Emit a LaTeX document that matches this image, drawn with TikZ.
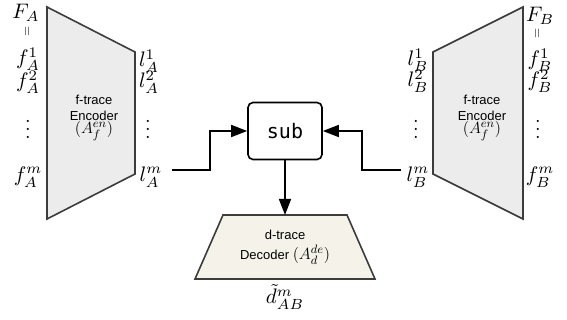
\documentclass[tikz,border=0pt]{standalone}
\usepackage{graphicx}
\usepackage{fontspec}
\setsansfont{Liberation Sans}
\newfontfamily\monofont{DejaVu Sans Mono}
\usetikzlibrary{arrows.meta}
\definecolor{encfill}{HTML}{ECECEC}
\definecolor{decfill}{HTML}{F5F3E9}
\definecolor{edge}{HTML}{3C3C3C}
\newcommand{\mlab}[1]{\scalebox{2.1}{$#1$}}
\newcommand{\mtxt}[1]{\scalebox{1.35}{$#1$}}
\begin{document}
\begin{tikzpicture}[x=1pt,y=-1pt,
  trap/.style={draw=edge,line width=1.6pt,line join=miter},
  lbl/.style={inner sep=0pt,font=\fontsize{10}{12}\selectfont},
  boxtxt/.style={font=\sffamily\fontsize{13}{15}\selectfont,align=center,inner sep=0pt},
  conn/.style={draw=black,line width=1.6pt},
  arr/.style={conn,-{Triangle[length=16pt,width=12pt]}}]
\useasboundingbox (0,0) rectangle (567,320);
% left encoder
\draw[trap,fill=encfill] (47,7) -- (135,52) -- (135,174) -- (47,219) -- cycle;
\node[boxtxt] (encA1) at (94,100) {f-trace};
\node[boxtxt] (encA2) at (94,116) {Encoder};
\node[boxtxt] (encA3) at (94,131) {\mtxt{(A_f^{en})}};
% right encoder
\draw[trap,fill=encfill] (523,7) -- (433,52) -- (433,174) -- (523,219) -- cycle;
\node[boxtxt] (encB1) at (482,100) {f-trace};
\node[boxtxt] (encB2) at (482,116) {Encoder};
\node[boxtxt] (encB3) at (482,131) {\mtxt{(A_f^{en})}};
% decoder
\draw[trap,fill=decfill] (223,215) -- (347,215) -- (375,279) -- (195,279) -- cycle;
\node[boxtxt] (dec1) at (285,235) {d-trace};
\node[boxtxt] (dec2) at (285,255) {Decoder \mtxt{(A_d^{de})}};
% sub box
\node[draw=black,line width=1.6pt,rounded corners=5pt,minimum width=74pt,minimum height=57pt,inner sep=0pt,font=\monofont\fontsize{20}{22}\selectfont] (sub) at (285,131) {sub};
% left labels
\node[lbl] (FA) at (26,13) {\mlab{F_A}};
\node[lbl] (eqA) at (28,31) {\rotatebox{90}{\scalebox{1.3}{$=$}}};
\node[lbl] (fA1) at (28,59) {\mlab{f_A^1}};
\node[lbl] (fA2) at (28,82) {\mlab{f_A^2}};
\node[lbl] (fAd) at (28,123) {\scalebox{2}{$\vdots$}};
\node[lbl] (fAm) at (28,177) {\mlab{f_A^m}};
\node[lbl] (lA1) at (149,61) {\mlab{l_A^1}};
\node[lbl] (lA2) at (149,82) {\mlab{l_A^2}};
\node[lbl] (lAd) at (148,123) {\scalebox{2}{$\vdots$}};
\node[lbl] (lAm) at (151,177) {\mlab{l_A^m}};
% right labels
\node[lbl] (FB) at (540,16) {\mlab{F_B}};
\node[lbl] (eqB) at (538,33) {\rotatebox{90}{\scalebox{1.3}{$=$}}};
\node[lbl] (fB1) at (540,60) {\mlab{f_B^1}};
\node[lbl] (fB2) at (540,81) {\mlab{f_B^2}};
\node[lbl] (fBd) at (538,123) {\scalebox{2}{$\vdots$}};
\node[lbl] (fBm) at (540,177) {\mlab{f_B^m}};
\node[lbl] (lB1) at (418,60) {\mlab{l_B^1}};
\node[lbl] (lB2) at (418,81) {\mlab{l_B^2}};
\node[lbl] (lBd) at (416,123) {\scalebox{2}{$\vdots$}};
\node[lbl] (lBm) at (418,177) {\mlab{l_B^m}};
% output label
\node[lbl] (dout) at (285,297) {\mlab{\tilde{d}_{AB}^m}};
% connectors
\coordinate (startA) at (172,170);
\coordinate (bendA) at (210,170);
\coordinate (startB) at (401,170);
\coordinate (bendB) at (362,170);
\coordinate (decTop) at (285,215);
\draw[arr] (startA) -- (bendA) |- (sub.west);
\draw[arr] (startB) -- (bendB) |- (sub.east);
\draw[arr] (sub.south) -- (decTop);
\end{tikzpicture}
\end{document}
